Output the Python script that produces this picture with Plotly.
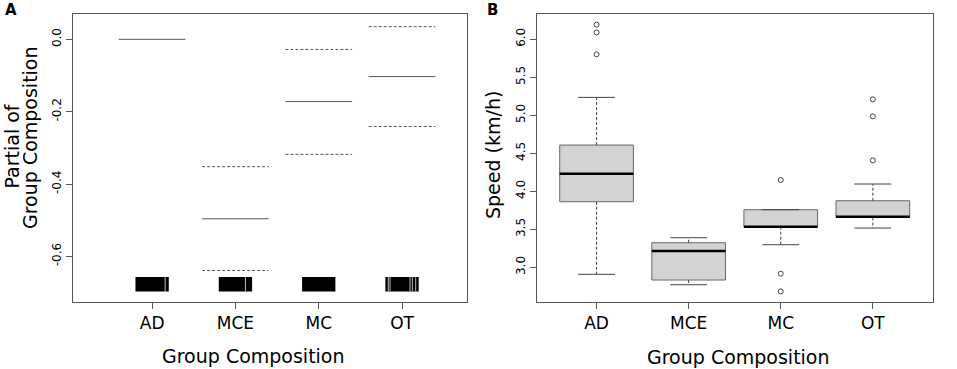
import plotly.graph_objects as go

W, H = 957, 369

groups = ["AD", "MCE", "MC", "OT"]
pos = [1, 2, 3, 4]

# ---- Panel A: partial effect of group composition (fit and +/- 2 SE)
partial_fit = [0.0, -0.496, -0.172, -0.103]
partial_upper = [None, -0.352, -0.028, 0.035]
partial_lower = [None, -0.639, -0.318, -0.241]
rug_base = -0.697
rug_height = 0.04
rug_gap_group = [1, 2, 4, 4, 4, 4, 4]
rug_gap_offset = [0.156, 0.12, -0.165, -0.144, 0.096, 0.124, 0.164]

# ---- Panel B: speed box plots
q1 = [3.862, 2.833, 3.534, 3.655]
med = [4.23, 3.214, 3.534, 3.665]
q3 = [4.607, 3.323, 3.757, 3.875]
whisk_lo = [2.908, 2.771, 3.297, 3.516]
whisk_hi = [5.234, 3.389, 3.757, 4.095]
out_group = [1, 1, 1, 3, 3, 3, 4, 4, 4]
out_val = [6.19, 6.088, 5.80, 4.147, 2.916, 2.684, 5.208, 4.984, 4.406]

FONT = "DejaVu Sans"
AX = "#555555"


def hsegs(xs, ys, half):
    X, Y = [], []
    for x, y in zip(xs, ys):
        if y is None:
            continue
        X += [x - half, x + half, None]
        Y += [y, y, None]
    return X, Y


def vsegs(xs, y0s, y1s):
    X, Y = [], []
    for x, a, b in zip(xs, y0s, y1s):
        X += [x, x, None]
        Y += [a, b, None]
    return X, Y


fig = go.Figure()

# Panel A
x, y = hsegs(pos, partial_fit, 0.4)
fig.add_trace(go.Scatter(x=x, y=y, mode="lines", line=dict(color="#555555", width=1),
                         xaxis="x", yaxis="y", hoverinfo="skip"))
x, y = hsegs(pos + pos, partial_upper + partial_lower, 0.4)
fig.add_trace(go.Scatter(x=x, y=y, mode="lines",
                         line=dict(color="#555555", width=1, dash="3px,2px"),
                         xaxis="x", yaxis="y", hoverinfo="skip"))
fig.add_trace(go.Bar(x=pos, y=[rug_height] * 4, base=[rug_base] * 4, width=0.4,
                     marker=dict(color="black", line=dict(width=0)),
                     xaxis="x", yaxis="y", hoverinfo="skip"))
gx = [g + o for g, o in zip(rug_gap_group, rug_gap_offset)]
x, y = vsegs(gx, [rug_base] * len(gx), [rug_base + rug_height] * len(gx))
fig.add_trace(go.Scatter(x=x, y=y, mode="lines", line=dict(color="#bbbbbb", width=1),
                         xaxis="x", yaxis="y", hoverinfo="skip"))

# Panel B
fig.add_trace(go.Bar(x=pos, base=q1, y=[b - a for a, b in zip(q1, q3)], width=0.8,
                     marker=dict(color="#d3d3d3", line=dict(color="#666666", width=1)),
                     xaxis="x2", yaxis="y2", hoverinfo="skip"))
x, y = vsegs(pos + pos, q3 + q1, whisk_hi + whisk_lo)
fig.add_trace(go.Scatter(x=x, y=y, mode="lines",
                         line=dict(color="#444444", width=1, dash="3px,2px"),
                         xaxis="x2", yaxis="y2", hoverinfo="skip"))
x, y = hsegs(pos + pos, whisk_hi + whisk_lo, 0.2)
fig.add_trace(go.Scatter(x=x, y=y, mode="lines", line=dict(color="#444444", width=1),
                         xaxis="x2", yaxis="y2", hoverinfo="skip"))
x, y = hsegs(pos, med, 0.4)
fig.add_trace(go.Scatter(x=x, y=y, mode="lines", line=dict(color="black", width=2.5),
                         xaxis="x2", yaxis="y2", hoverinfo="skip"))
fig.add_trace(go.Scatter(x=out_group, y=out_val, mode="markers",
                         marker=dict(symbol="circle-open", size=5, color="#444444",
                                     line=dict(width=1)),
                         xaxis="x2", yaxis="y2", hoverinfo="skip"))

axis_common = dict(showline=True, mirror=True, linecolor=AX, linewidth=1,
                   showgrid=False, zeroline=False, ticks="outside", ticklen=6,
                   tickcolor=AX, tickwidth=1)

fig.update_layout(
    width=W, height=H,
    margin=dict(l=0, r=0, t=0, b=0),
    paper_bgcolor="white", plot_bgcolor="white",
    showlegend=False, barmode="overlay",
    font=dict(family=FONT, color="black"),
    xaxis=dict(domain=[73 / W, 467 / W], range=[0.05, 4.78],
               tickvals=pos, ticktext=groups, tickfont=dict(size=17),
               anchor="y", **axis_common),
    yaxis=dict(domain=[1 - 302 / H, 1 - 14 / H], range=[-0.726, 0.07],
               tickvals=[0.0, -0.2, -0.4, -0.6],
               ticktext=["0.0", "-0.2", "-0.4", "-0.6"],
               tickangle=-90, tickfont=dict(size=12), anchor="x", **axis_common),
    xaxis2=dict(domain=[536.7 / W, 932.7 / W], range=[0.35, 4.65],
                tickvals=pos, ticktext=groups, tickfont=dict(size=17),
                anchor="y2", **axis_common),
    yaxis2=dict(domain=[1 - 302 / H, 1 - 14 / H], range=[2.544, 6.33],
                tickvals=[3.0, 3.5, 4.0, 4.5, 5.0, 5.5, 6.0],
                ticktext=["3.0", "3.5", "4.0", "4.5", "5.0", "5.5", "6.0"],
                tickangle=-90, tickfont=dict(size=12), anchor="x2", **axis_common),
)


def ann(text, px, py, size, angle=0, bold=False):
    fig.add_annotation(text=f"<b>{text}</b>" if bold else text,
                       x=px / W, y=1 - py / H, xref="paper", yref="paper",
                       xanchor="center", yanchor="middle", showarrow=False,
                       textangle=angle, font=dict(family=FONT, size=size, color="black"))


ann("A", 11, 10, 15, bold=True)
ann("B", 492.5, 10, 15, bold=True)
ann("Group Composition", 254, 356, 19)
ann("Group Composition", 738, 357, 19)
ann("Partial of", 11, 146.5, 19, angle=-90)
ann("Group Composition", 29.5, 137.5, 19, angle=-90)
ann("Speed (km/h)", 493, 155, 19, angle=-90)

fig.write_html("out.html", config={"displayModeBar": False, "staticPlot": True})

# remove the default page margin so the figure sits at the window origin
with open("out.html", "r", encoding="utf-8") as f:
    html = f.read()
html = html.replace("<body>", '<body style="margin:0;padding:0;overflow:hidden">', 1)
with open("out.html", "w", encoding="utf-8") as f:
    f.write(html)
